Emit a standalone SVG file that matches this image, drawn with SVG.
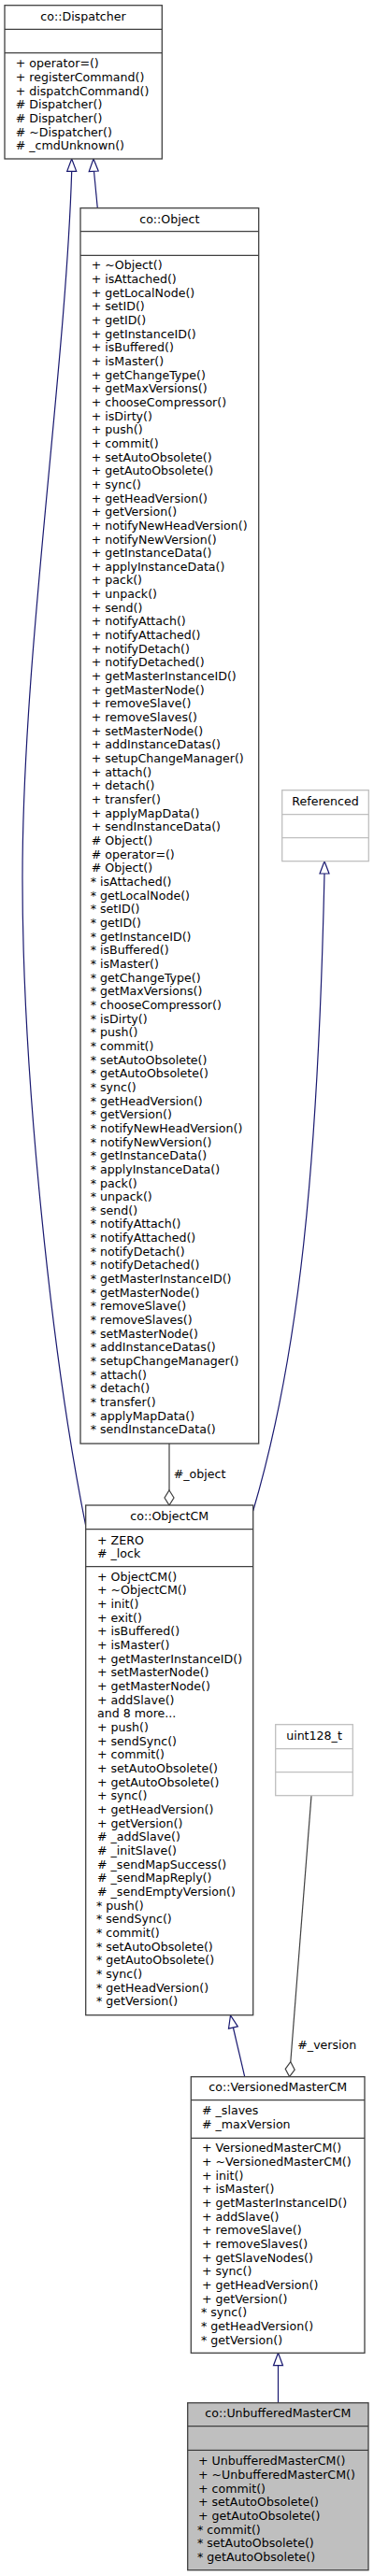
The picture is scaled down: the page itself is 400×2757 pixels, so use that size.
<svg xmlns="http://www.w3.org/2000/svg" width="400" height="2757" viewBox="0 0 400 2757">
<style>
text{font-family:"DejaVu Sans","Noto Sans",sans-serif;font-size:12.6px;fill:#000}
.t{text-anchor:middle}
.box{fill:#fff;stroke:#404040;stroke-width:1.3}
.ext{fill:#fff;stroke:#bfbfbf;stroke-width:1.3}
.cur{fill:#bfbfbf;stroke:#404040;stroke-width:1.3}
.sep{stroke:#404040;stroke-width:1.3}
.sepx{stroke:#bfbfbf;stroke-width:1.3}
.inh{fill:none;stroke:#191970;stroke-width:1.2}
.tri{fill:#fff;stroke:#191970;stroke-width:1.2}
.use{fill:none;stroke:#404040;stroke-width:1.2}
.dia{fill:#fff;stroke:#404040;stroke-width:1.2}
</style>
<rect width="400" height="2757" fill="#fff"/>
<g id="connectors">
<g id="e-object-dispatcher"><path class="inh" d="M104.3,222.7 L100.5,183.3"/><polygon class="tri" points="100,170 95.2,183.6 105.2,183"/></g>
<g id="e-objectcm-dispatcher"><path class="inh" d="M76.7,183.3 C70,400 24,700 24,940 C24,1150 55,1450 91.7,1633"/><polygon class="tri" points="76.7,170 71.7,183.3 81.7,183.3"/></g>
<g id="e-objectcm-referenced"><path class="inh" d="M347,935 C340,1250 320,1450 270.7,1617"/><polygon class="tri" points="347,921.7 342,935 352,935"/></g>
<g id="e-object-objectcm"><path class="use" d="M181,1545 L181,1595"/><polygon class="dia" points="181,1595 186,1603 181,1611 176,1603"/><text x="185.7" y="1581.5">#_object</text></g>
<g id="e-versioned-objectcm"><path class="inh" d="M249.4,2170 L261.7,2222.7"/><polygon class="tri" points="246.5,2157 244.5,2171.1 254.3,2168.9"/></g>
<g id="e-uint128-versioned"><path class="use" d="M333,1922 L310.8,2206.7"/><polygon class="dia" points="310.8,2206.7 315.2,2215.1 309.6,2222.6 305.2,2214.3"/><text x="318.3" y="2192.5">#_version</text></g>
<g id="e-unbuffered-versioned"><path class="inh" d="M297.5,2531.7 L297.5,2571.7"/><polygon class="tri" points="297.5,2518.3 292.5,2531.7 302.5,2531.7"/></g>
</g>
<g id="node-dispatcher">
<rect class="box" x="5" y="5.7" width="168.3" height="164.3"/>
<line class="sep" x1="5" y1="31.3" x2="173.3" y2="31.3"/>
<line class="sep" x1="5" y1="56.7" x2="173.3" y2="56.7"/>
<text class="t" x="89" y="22">co::Dispatcher</text>
<text x="16.7" y="72.3"><tspan x="16.7">+ operator=()</tspan><tspan x="16.7" dy="14.67">+ registerCommand()</tspan><tspan x="16.7" dy="14.67">+ dispatchCommand()</tspan><tspan x="16.7" dy="14.67"># Dispatcher()</tspan><tspan x="16.7" dy="14.67"># Dispatcher()</tspan><tspan x="16.7" dy="14.67"># ~Dispatcher()</tspan><tspan x="16.7" dy="14.67"># _cmdUnknown()</tspan></text>
</g>
<g id="node-object">
<rect class="box" x="86" y="222.7" width="190.7" height="1322.3"/>
<line class="sep" x1="86" y1="247.7" x2="276.7" y2="247.7"/>
<line class="sep" x1="86" y1="273.3" x2="276.7" y2="273.3"/>
<text class="t" x="181.3" y="239">co::Object</text>
<text x="97.7" y="288.3"><tspan x="97.7">+ ~Object()</tspan><tspan x="97.7" dy="14.66">+ isAttached()</tspan><tspan x="97.7" dy="14.66">+ getLocalNode()</tspan><tspan x="97.7" dy="14.66">+ setID()</tspan><tspan x="97.7" dy="14.66">+ getID()</tspan><tspan x="97.7" dy="14.66">+ getInstanceID()</tspan><tspan x="97.7" dy="14.66">+ isBuffered()</tspan><tspan x="97.7" dy="14.66">+ isMaster()</tspan><tspan x="97.7" dy="14.66">+ getChangeType()</tspan><tspan x="97.7" dy="14.66">+ getMaxVersions()</tspan><tspan x="97.7" dy="14.66">+ chooseCompressor()</tspan><tspan x="97.7" dy="14.66">+ isDirty()</tspan><tspan x="97.7" dy="14.66">+ push()</tspan><tspan x="97.7" dy="14.66">+ commit()</tspan><tspan x="97.7" dy="14.66">+ setAutoObsolete()</tspan><tspan x="97.7" dy="14.66">+ getAutoObsolete()</tspan><tspan x="97.7" dy="14.66">+ sync()</tspan><tspan x="97.7" dy="14.66">+ getHeadVersion()</tspan><tspan x="97.7" dy="14.66">+ getVersion()</tspan><tspan x="97.7" dy="14.66">+ notifyNewHeadVersion()</tspan><tspan x="97.7" dy="14.66">+ notifyNewVersion()</tspan><tspan x="97.7" dy="14.66">+ getInstanceData()</tspan><tspan x="97.7" dy="14.66">+ applyInstanceData()</tspan><tspan x="97.7" dy="14.66">+ pack()</tspan><tspan x="97.7" dy="14.66">+ unpack()</tspan><tspan x="97.7" dy="14.66">+ send()</tspan><tspan x="97.7" dy="14.66">+ notifyAttach()</tspan><tspan x="97.7" dy="14.66">+ notifyAttached()</tspan><tspan x="97.7" dy="14.66">+ notifyDetach()</tspan><tspan x="97.7" dy="14.66">+ notifyDetached()</tspan><tspan x="97.7" dy="14.66">+ getMasterInstanceID()</tspan><tspan x="97.7" dy="14.66">+ getMasterNode()</tspan><tspan x="97.7" dy="14.66">+ removeSlave()</tspan><tspan x="97.7" dy="14.66">+ removeSlaves()</tspan><tspan x="97.7" dy="14.66">+ setMasterNode()</tspan><tspan x="97.7" dy="14.66">+ addInstanceDatas()</tspan><tspan x="97.7" dy="14.66">+ setupChangeManager()</tspan><tspan x="97.7" dy="14.66">+ attach()</tspan><tspan x="97.7" dy="14.66">+ detach()</tspan><tspan x="97.7" dy="14.66">+ transfer()</tspan><tspan x="97.7" dy="14.66">+ applyMapData()</tspan><tspan x="97.7" dy="14.66">+ sendInstanceData()</tspan><tspan x="97.7" dy="14.66"># Object()</tspan><tspan x="97.7" dy="14.66"># operator=()</tspan><tspan x="97.7" dy="14.66"># Object()</tspan><tspan x="96.7" dy="14.66">* isAttached()</tspan><tspan x="96.7" dy="14.66">* getLocalNode()</tspan><tspan x="96.7" dy="14.66">* setID()</tspan><tspan x="96.7" dy="14.66">* getID()</tspan><tspan x="96.7" dy="14.66">* getInstanceID()</tspan><tspan x="96.7" dy="14.66">* isBuffered()</tspan><tspan x="96.7" dy="14.66">* isMaster()</tspan><tspan x="96.7" dy="14.66">* getChangeType()</tspan><tspan x="96.7" dy="14.66">* getMaxVersions()</tspan><tspan x="96.7" dy="14.66">* chooseCompressor()</tspan><tspan x="96.7" dy="14.66">* isDirty()</tspan><tspan x="96.7" dy="14.66">* push()</tspan><tspan x="96.7" dy="14.66">* commit()</tspan><tspan x="96.7" dy="14.66">* setAutoObsolete()</tspan><tspan x="96.7" dy="14.66">* getAutoObsolete()</tspan><tspan x="96.7" dy="14.66">* sync()</tspan><tspan x="96.7" dy="14.66">* getHeadVersion()</tspan><tspan x="96.7" dy="14.66">* getVersion()</tspan><tspan x="96.7" dy="14.66">* notifyNewHeadVersion()</tspan><tspan x="96.7" dy="14.66">* notifyNewVersion()</tspan><tspan x="96.7" dy="14.66">* getInstanceData()</tspan><tspan x="96.7" dy="14.66">* applyInstanceData()</tspan><tspan x="96.7" dy="14.66">* pack()</tspan><tspan x="96.7" dy="14.66">* unpack()</tspan><tspan x="96.7" dy="14.66">* send()</tspan><tspan x="96.7" dy="14.66">* notifyAttach()</tspan><tspan x="96.7" dy="14.66">* notifyAttached()</tspan><tspan x="96.7" dy="14.66">* notifyDetach()</tspan><tspan x="96.7" dy="14.66">* notifyDetached()</tspan><tspan x="96.7" dy="14.66">* getMasterInstanceID()</tspan><tspan x="96.7" dy="14.66">* getMasterNode()</tspan><tspan x="96.7" dy="14.66">* removeSlave()</tspan><tspan x="96.7" dy="14.66">* removeSlaves()</tspan><tspan x="96.7" dy="14.66">* setMasterNode()</tspan><tspan x="96.7" dy="14.66">* addInstanceDatas()</tspan><tspan x="96.7" dy="14.66">* setupChangeManager()</tspan><tspan x="96.7" dy="14.66">* attach()</tspan><tspan x="96.7" dy="14.66">* detach()</tspan><tspan x="96.7" dy="14.66">* transfer()</tspan><tspan x="96.7" dy="14.66">* applyMapData()</tspan><tspan x="96.7" dy="14.66">* sendInstanceData()</tspan></text>
</g>
<g id="node-referenced">
<rect class="ext" x="301.7" y="845.7" width="92.6" height="76"/>
<line class="sepx" x1="301.7" y1="871.7" x2="394.3" y2="871.7"/>
<line class="sepx" x1="301.7" y1="896.7" x2="394.3" y2="896.7"/>
<text class="t" x="348" y="861.7">Referenced</text>
</g>
<g id="node-objectcm">
<rect class="box" x="91.7" y="1611" width="179" height="545.7"/>
<line class="sep" x1="91.7" y1="1636.7" x2="270.7" y2="1636.7"/>
<line class="sep" x1="91.7" y1="1676.7" x2="270.7" y2="1676.7"/>
<text class="t" x="181.2" y="1626.7">co::ObjectCM</text>
<text x="104" y="1652.5"><tspan x="104">+ ZERO</tspan><tspan x="104" dy="14.3"># _lock</tspan></text>
<text x="104" y="1691.7"><tspan x="104">+ ObjectCM()</tspan><tspan x="104" dy="14.66">+ ~ObjectCM()</tspan><tspan x="104" dy="14.66">+ init()</tspan><tspan x="104" dy="14.66">+ exit()</tspan><tspan x="104" dy="14.66">+ isBuffered()</tspan><tspan x="104" dy="14.66">+ isMaster()</tspan><tspan x="104" dy="14.66">+ getMasterInstanceID()</tspan><tspan x="104" dy="14.66">+ setMasterNode()</tspan><tspan x="104" dy="14.66">+ getMasterNode()</tspan><tspan x="104" dy="14.66">+ addSlave()</tspan><tspan x="104" dy="14.66">and 8 more...</tspan><tspan x="104" dy="14.66">+ push()</tspan><tspan x="104" dy="14.66">+ sendSync()</tspan><tspan x="104" dy="14.66">+ commit()</tspan><tspan x="104" dy="14.66">+ setAutoObsolete()</tspan><tspan x="104" dy="14.66">+ getAutoObsolete()</tspan><tspan x="104" dy="14.66">+ sync()</tspan><tspan x="104" dy="14.66">+ getHeadVersion()</tspan><tspan x="104" dy="14.66">+ getVersion()</tspan><tspan x="104" dy="14.66"># _addSlave()</tspan><tspan x="104" dy="14.66"># _initSlave()</tspan><tspan x="104" dy="14.66"># _sendMapSuccess()</tspan><tspan x="104" dy="14.66"># _sendMapReply()</tspan><tspan x="104" dy="14.66"># _sendEmptyVersion()</tspan><tspan x="103" dy="14.66">* push()</tspan><tspan x="103" dy="14.66">* sendSync()</tspan><tspan x="103" dy="14.66">* commit()</tspan><tspan x="103" dy="14.66">* setAutoObsolete()</tspan><tspan x="103" dy="14.66">* getAutoObsolete()</tspan><tspan x="103" dy="14.66">* sync()</tspan><tspan x="103" dy="14.66">* getHeadVersion()</tspan><tspan x="103" dy="14.66">* getVersion()</tspan></text>
</g>
<g id="node-uint128">
<rect class="ext" x="294.7" y="1845.7" width="82.6" height="76"/>
<line class="sepx" x1="294.7" y1="1871.7" x2="377.3" y2="1871.7"/>
<line class="sepx" x1="294.7" y1="1896.7" x2="377.3" y2="1896.7"/>
<text class="t" x="336" y="1861.7">uint128_t</text>
</g>
<g id="node-versionedmastercm">
<rect class="box" x="204.3" y="2222.7" width="185.7" height="295.6"/>
<line class="sep" x1="204.3" y1="2247.7" x2="390" y2="2247.7"/>
<line class="sep" x1="204.3" y1="2288.3" x2="390" y2="2288.3"/>
<text class="t" x="297.2" y="2238.3">co::VersionedMasterCM</text>
<text x="216" y="2263.3"><tspan x="216"># _slaves</tspan><tspan x="216" dy="14.66"># _maxVersion</tspan></text>
<text x="216" y="2303.3"><tspan x="216">+ VersionedMasterCM()</tspan><tspan x="216" dy="14.66">+ ~VersionedMasterCM()</tspan><tspan x="216" dy="14.66">+ init()</tspan><tspan x="216" dy="14.66">+ isMaster()</tspan><tspan x="216" dy="14.66">+ getMasterInstanceID()</tspan><tspan x="216" dy="14.66">+ addSlave()</tspan><tspan x="216" dy="14.66">+ removeSlave()</tspan><tspan x="216" dy="14.66">+ removeSlaves()</tspan><tspan x="216" dy="14.66">+ getSlaveNodes()</tspan><tspan x="216" dy="14.66">+ sync()</tspan><tspan x="216" dy="14.66">+ getHeadVersion()</tspan><tspan x="216" dy="14.66">+ getVersion()</tspan><tspan x="215" dy="14.66">* sync()</tspan><tspan x="215" dy="14.66">* getHeadVersion()</tspan><tspan x="215" dy="14.66">* getVersion()</tspan></text>
</g>
<g id="node-unbufferedmastercm">
<rect class="cur" x="200.7" y="2571.7" width="193.3" height="179"/>
<line class="sep" x1="200.7" y1="2596.7" x2="394" y2="2596.7"/>
<line class="sep" x1="200.7" y1="2622.3" x2="394" y2="2622.3"/>
<text class="t" x="297.3" y="2587.3">co::UnbufferedMasterCM</text>
<text x="212" y="2638.3"><tspan x="212">+ UnbufferedMasterCM()</tspan><tspan x="212" dy="14.66">+ ~UnbufferedMasterCM()</tspan><tspan x="212" dy="14.66">+ commit()</tspan><tspan x="212" dy="14.66">+ setAutoObsolete()</tspan><tspan x="212" dy="14.66">+ getAutoObsolete()</tspan><tspan x="211" dy="14.66">* commit()</tspan><tspan x="211" dy="14.66">* setAutoObsolete()</tspan><tspan x="211" dy="14.66">* getAutoObsolete()</tspan></text>
</g>
</svg>
